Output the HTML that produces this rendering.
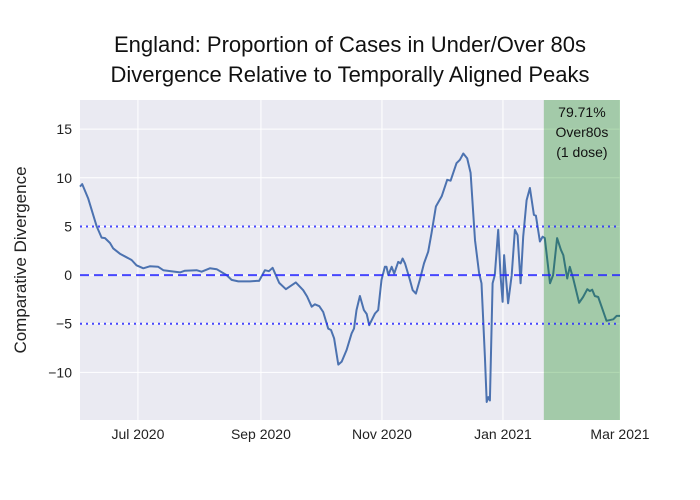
<!DOCTYPE html>
<html><head><meta charset="utf-8"><style>
body{margin:0;background:#fff;}
svg{display:block;font-family:"Liberation Sans",Arial,sans-serif;}
</style></head><body>
<svg id="chart" width="700" height="500">
<rect x="0" y="0" width="700" height="500" fill="#fff"/>
<text x="350" y="52" text-anchor="middle" font-size="22" fill="#111">England: Proportion of Cases in Under/Over 80s</text>
<text x="350" y="82" text-anchor="middle" font-size="22" fill="#111">Divergence Relative to Temporally Aligned Peaks</text>
<rect x="80" y="100" width="540" height="320" fill="#eaeaf2"/>
<g id="grid"></g>
<g id="series"></g>
<g id="overlay"></g>
<g id="axes"></g>
<text transform="translate(26,260) rotate(-90)" text-anchor="middle" font-size="17" fill="#222">Comparative Divergence</text>
</svg>
<script>
// days since 2020-07-01
const days = [-29.2,-28.1,-25.1,-20.8,-18.3,-16.6,-14.1,-12.5,-9.1,-3.2,-0.7,2.7,6.0,10.2,12.8,21.2,23.7,29.6,32.1,36.3,39.7,44.7,47.2,50.6,56.5,59.8,61.1,64.0,66.0,67.9,71.2,74.6,79.6,83.3,85.3,87.6,89.2,91.4,93.4,95.9,97.3,98.9,101.0,102.7,105.2,107.7,108.9,110.2,111.9,113.9,115.3,116.6,119.5,121.1,122.8,124.5,125.3,126.2,127.9,129.2,131.2,132.4,133.4,134.6,137.1,138.5,140.1,142.1,144.2,146.3,148.0,150.2,153.1,155.9,157.6,160.6,162.3,164.0,166.0,167.7,169.9,172.0,173.2,174.9,175.8,176.6,177.4,178.8,179.9,181.6,182.8,183.8,184.6,186.6,188.4,190.0,191.4,192.9,194.2,195.9,197.6,199.6,200.6,202.6,204.0,205.1,207.7,209.3,211.3,213.2,214.4,216.4,217.7,219.4,222.4,224.4,226.5,227.8,229.0,230.3,232.0,233.7,236.2,239.6,241.3,243.0];
const values = [9.1,9.35,7.9,5.0,3.85,3.8,3.3,2.75,2.2,1.55,1.0,0.7,0.9,0.85,0.5,0.27,0.45,0.5,0.35,0.7,0.6,0,-0.5,-0.65,-0.65,-0.6,-0.6,0.5,0.4,0.75,-0.8,-1.45,-0.75,-1.55,-2.2,-3.25,-3.0,-3.2,-3.8,-5.5,-5.65,-6.5,-9.2,-8.9,-7.7,-6.0,-5.5,-3.6,-2.15,-3.6,-4.0,-5.15,-3.95,-3.6,-0.5,0.85,0.85,0,0.85,0.15,1.35,1.2,1.7,1.2,-0.5,-1.55,-1.9,-0.5,1.2,2.4,4.3,7.05,8.1,9.8,9.7,11.5,11.85,12.5,12.0,10.5,3.6,0.2,-0.85,-8.4,-13.05,-12.55,-12.9,-0.85,0,4.65,-0.15,-2.75,2.05,-2.9,0,4.65,4.1,-0.85,3.95,7.7,8.95,6.2,6.1,3.45,3.95,3.8,-0.85,0,3.8,2.6,2.05,-0.35,0.85,-0.35,-2.85,-2.25,-1.45,-1.65,-1.5,-2.15,-2.25,-3.25,-4.7,-4.55,-4.2,-4.2];
const yTicks = [-10,-5,0,5,10,15];
const xTickDays = [0,62,123,184,243];
const xTickLabels = ["Jul 2020","Sep 2020","Nov 2020","Jan 2021","Mar 2021"];
const refLines = [-5,0,5];
const bandStart = 204.6, bandEnd = 243;
const annotation = ["79.71%","Over80s","(1 dose)"];

const X0=80,X1=620,Y0=420,Y1=100, DMIN=-29.2, DMAX=243, VMIN=-14.9, VMAX=18.0;
const xs = d => X0 + (d-DMIN)/(DMAX-DMIN)*(X1-X0);
const ys = v => Y0 - (v-VMIN)/(VMAX-VMIN)*(Y0-Y1);
const NS="http://www.w3.org/2000/svg";
function mk(tag, attrs, parent){const e=document.createElementNS(NS,tag);for(const k in attrs)e.setAttribute(k,attrs[k]);parent.appendChild(e);return e;}
const grid=document.getElementById('grid'), series=document.getElementById('series'), overlay=document.getElementById('overlay'), axes=document.getElementById('axes');

yTicks.forEach(t=>{
  const l=mk('line',{x1:X0,x2:X1,y1:ys(t),y2:ys(t),stroke:'#fff','stroke-width':1},grid);
  
  
  const tx=mk('text',{x:X0-8,y:ys(t)+5,'text-anchor':'end','font-size':14,fill:'#222'},axes);
  tx.textContent = t<0 ? '\u2212'+Math.abs(t) : String(t);
  
  
});
xTickDays.forEach((d,i)=>{
  const l=mk('line',{x1:xs(d),x2:xs(d),y1:Y1,y2:Y0,stroke:'#fff','stroke-width':1},grid);
  
  
  const tx=mk('text',{x:xs(d),y:439,'text-anchor':'middle','font-size':14,fill:'#222'},axes);
  tx.textContent=xTickLabels[i];
  
  
});

const pts = days.map((d,i)=>xs(d).toFixed(1)+','+ys(values[i]).toFixed(1)).join(' ');
const pl = mk('polyline',{points:pts,fill:'none',stroke:'#4c72b0','stroke-width':2,'stroke-linejoin':'round'},series);



const band = mk('rect',{x:xs(bandStart),y:Y1,width:xs(bandEnd)-xs(bandStart),height:Y0-Y1,fill:'rgba(0,128,0,0.3)'},overlay);



refLines.forEach(v=>{
  const l=mk('line',{x1:X0,x2:X1,y1:ys(v),y2:ys(v),stroke:'rgba(40,40,255,0.85)','stroke-width':2,'stroke-dasharray': v===0?'9,5':'2,4'},overlay);
  
  
});

annotation.forEach((s,i)=>{
  const t=mk('text',{x:(xs(bandStart)+xs(bandEnd))/2,y:117+i*20,'text-anchor':'middle','font-size':14,fill:'#111'},overlay);
  t.textContent=s;
  
  
});
</script>
</body></html>
